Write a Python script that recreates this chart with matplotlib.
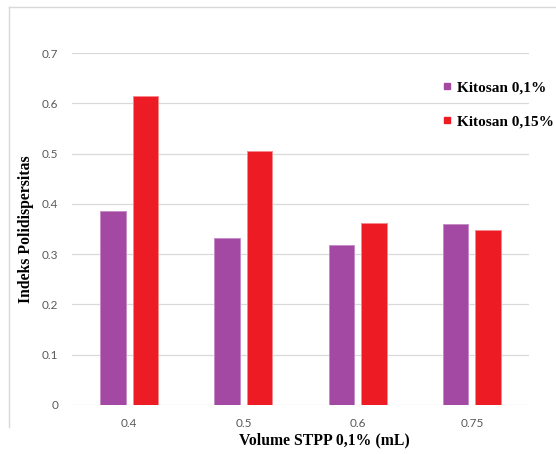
import matplotlib

matplotlib.use("Agg")
import matplotlib.pyplot as plt
import numpy as np
from matplotlib.lines import Line2D

# data
volume_stpp = ["0.4", "0.5", "0.6", "0.75"]
kitosan_01 = [0.386, 0.332, 0.319, 0.359]
kitosan_015 = [0.614, 0.505, 0.362, 0.348]
y_ticks = [0, 0.1, 0.2, 0.3, 0.4, 0.5, 0.6, 0.7]

UNGU = "#A349A4"
MERAH = "#ED1C24"
ABU = "#d9d9d9"
SERIF = ["Liberation Serif", "DejaVu Serif"]

fig = plt.figure(figsize=(5.56, 4.54), dpi=100)
W, H = 556, 454
ax = fig.add_axes([72 / W, (H - 404.7) / H, (529 - 72) / W, (404.7 - 53.3) / H])

x = np.arange(len(volume_stpp))
lebar = 0.223
geser = 0.143
ax.bar(x - geser, kitosan_01, lebar, color=UNGU, edgecolor="#c58dc6", linewidth=0.7, zorder=3)
ax.bar(x + geser, kitosan_015, lebar, color=MERAH, edgecolor="#f48a8e", linewidth=0.7, zorder=3)

ax.set_xlim(-0.5, len(volume_stpp) - 0.5)
ax.set_ylim(0, 0.7)
ax.set_yticks(y_ticks)
ax.set_yticklabels(["0" if v == 0 else f"{v:.1f}" for v in y_ticks])
ax.set_xticks(x)
ax.set_xticklabels(volume_stpp)
ax.tick_params(length=0, labelsize=8.5, labelcolor="#595959")
ax.tick_params(axis="y", pad=10)
ax.tick_params(axis="x", pad=9.5)
for lbl in ax.get_xticklabels() + ax.get_yticklabels():
    lbl.set_family(["Lato", "DejaVu Sans"])
ax.grid(axis="y", color=ABU, linewidth=0.9, zorder=0)
for s in ax.spines.values():
    s.set_visible(False)

ax.set_ylabel("Indeks Polidispersitas", family=SERIF, weight="bold", fontsize=11.3)
ax.yaxis.set_label_coords(-38 / (529 - 72), 0.5)
fig.text(324 / W, 1 - 440 / H, "Volume STPP 0,1% (mL)", family=SERIF, weight="bold",
         fontsize=11.3, ha="center", va="center")

# bingkai area grafik (kiri dan atas saja)
fig.add_artist(Line2D([9 / W, 9 / W], [1 - 7 / H, 1 - 427 / H], color=ABU, linewidth=1))
fig.add_artist(Line2D([9 / W, 1.0], [1 - 7 / H, 1 - 7 / H], color=ABU, linewidth=1))

handles = [
    Line2D([], [], marker="s", linestyle="none", color=UNGU, markersize=5),
    Line2D([], [], marker="s", linestyle="none", color=MERAH, markersize=5),
]
fig.legend(handles, ["Kitosan 0,1%", "Kitosan 0,15%"], loc="upper left",
           bbox_to_anchor=(435 / W, 1 - 73 / H), frameon=False,
           prop={"family": SERIF, "weight": "bold", "size": 11},
           handlelength=0.6, handletextpad=0.35, labelspacing=1.35, borderpad=0)

fig.savefig("out.png", dpi=100)
